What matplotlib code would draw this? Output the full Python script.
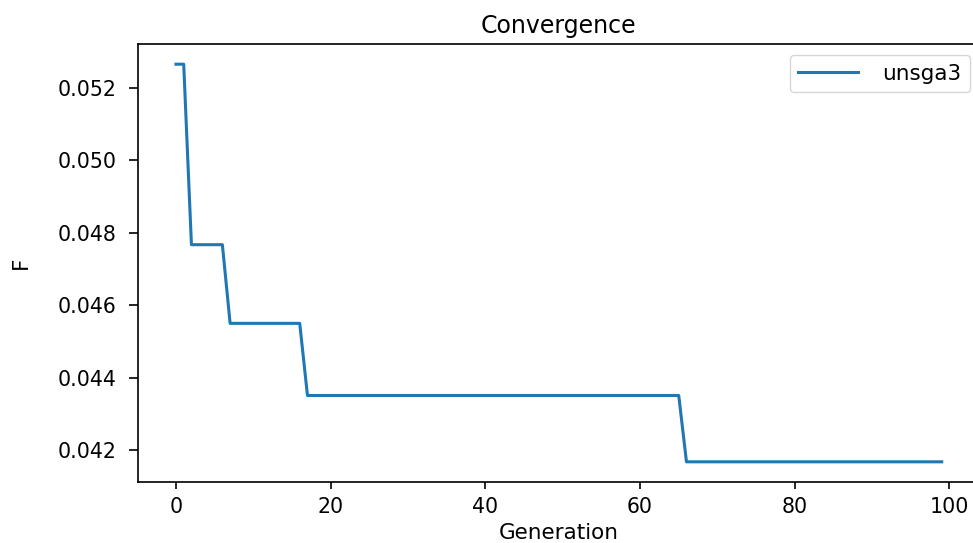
import numpy as np
import matplotlib.pyplot as plt

# convergence history, one value per generation
generations = np.arange(100)
step_starts = [0, 2, 7, 17, 66]
step_values = [0.05265, 0.04767, 0.04550, 0.04351, 0.04168]

F = np.empty(len(generations))
for start, val in zip(step_starts, step_values):
    F[generations >= start] = val

plt.rcParams["font.size"] = 14.8
plt.rcParams["axes.linewidth"] = 1.2
plt.rcParams["xtick.major.size"] = 5
plt.rcParams["ytick.major.size"] = 6.5
plt.rcParams["xtick.major.pad"] = 6
plt.rcParams["ytick.major.pad"] = 8.5
plt.rcParams["xtick.major.width"] = 1.2
plt.rcParams["ytick.major.width"] = 1.2

fig = plt.figure(figsize=(9.73, 5.43), dpi=100)
ax = fig.add_axes([0.1415, 0.1129, 0.8657, 0.8055])

ax.plot(generations, F, color="#1f77b4", linewidth=2.2, label="unsga3")
ax.set_title("Convergence", fontsize=17, pad=8)
ax.set_xlabel("Generation", fontsize=15.5, labelpad=4)
ax.set_ylabel("F", fontsize=15.5)
ax.yaxis.set_label_coords(-0.127, 0.50)
ax.legend(loc="upper right", bbox_to_anchor=(0.988, 0.9755), borderaxespad=0,
          fontsize=15.5, handlelength=2.8, handletextpad=1.1)

fig.savefig("out.png", dpi=100)
